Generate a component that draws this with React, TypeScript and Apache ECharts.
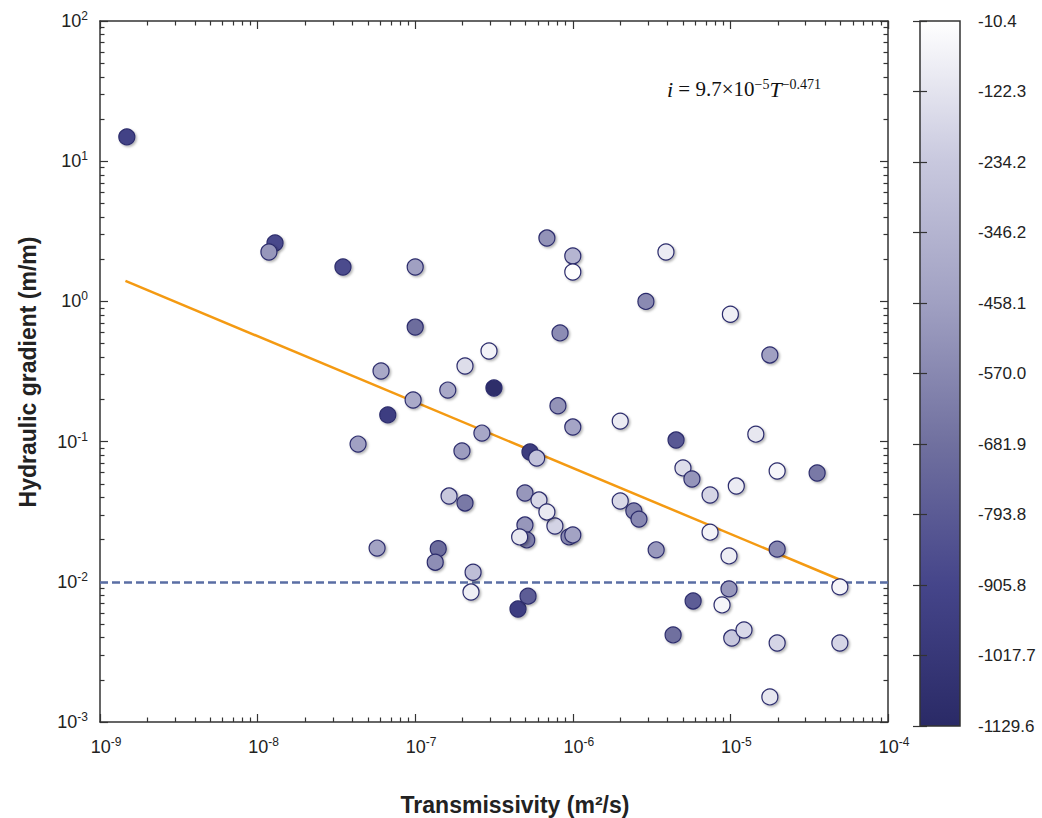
import React, { useEffect, useRef } from 'react';
import * as echarts from 'echarts';

// ---- data ----
const transmissivity = [
  1.48e-9, 1.29e-8, 1.18e-8, 3.48e-8, 1.0e-7, 6.85e-7, 1.0e-6, 1.0e-6, 3.9e-6, 2.91e-6,
  1.0e-5, 1.0e-7, 8.3e-7, 1.78e-5, 2.94e-7, 2.07e-7, 6.07e-8, 1.61e-7, 3.16e-7, 6.7e-8,
  9.7e-8, 8.05e-7, 4.34e-8, 2.65e-7, 1.98e-7, 5.35e-7, 5.9e-7, 1.0e-6, 2.0e-6, 4.52e-6,
  1.45e-5, 5.0e-6, 5.7e-6, 1.98e-5, 3.55e-5, 1.64e-7, 2.07e-7, 4.97e-7, 6.1e-7, 4.97e-7,
  7.7e-7, 6.85e-7, 5.1e-7, 4.6e-7, 9.46e-7, 1.0e-6, 2.0e-6, 2.44e-6, 2.63e-6, 3.38e-6,
  7.43e-6, 1.09e-5, 7.43e-6, 9.8e-6, 1.98e-5, 5.73e-8, 1.4e-7, 1.34e-7, 2.33e-7, 2.26e-7,
  4.49e-7, 5.2e-7, 9.8e-6, 8.85e-6, 5.8e-6, 4.95e-5, 4.33e-6, 1.02e-5, 1.22e-5, 1.98e-5,
  4.95e-5, 1.78e-5,
];
const gradient = [
  14.9, 2.61, 2.25, 1.76, 1.76, 2.83, 2.11, 1.62, 2.25, 1.0,
  0.81, 0.656, 0.596, 0.415, 0.443, 0.346, 0.319, 0.233, 0.241, 0.155,
  0.198, 0.18, 0.096, 0.115, 0.0857, 0.0843, 0.0763, 0.127, 0.14, 0.1026,
  0.113, 0.0649, 0.0541, 0.0617, 0.0597, 0.0409, 0.0365, 0.043, 0.0383, 0.0254,
  0.025, 0.0315, 0.0199, 0.0209, 0.0209, 0.0216, 0.0377, 0.032, 0.028, 0.0169,
  0.0416, 0.0482, 0.0226, 0.0153, 0.0171, 0.0174, 0.0172, 0.0138, 0.0117, 0.00845,
  0.0064, 0.0079, 0.0089, 0.00684, 0.0073, 0.0092, 0.00418, 0.00397, 0.00453, 0.00366,
  0.00366, 0.00151,
];
const depth = [
  -930, -880, -500, -870, -460, -520, -340, -15, -90, -560,
  -75, -700, -550, -460, -60, -150, -410, -410, -1100, -960,
  -400, -520, -450, -420, -470, -980, -260, -430, -90, -800,
  -110, -150, -510, -45, -640, -240, -640, -500, -170, -500,
  -190, -100, -620, -110, -560, -440, -170, -590, -570, -490,
  -180, -90, -60, -85, -570, -440, -700, -540, -290, -75,
  -960, -780, -500, -50, -780, -50, -680, -240, -160, -180,
  -180, -110,
];

const fitLineT = [1.45e-9, 5.0e-5];
const fitLineI = [1.4, 0.0103];
const thresholdGradient = 0.01;

const xTickExponents = [-9, -8, -7, -6, -5, -4];
const yTickExponents = [-3, -2, -1, 0, 1, 2];
const colorbarLabels = [
  '-1129.6', '-1017.7', '-905.8', '-793.8', '-681.9', '-570.0',
  '-458.1', '-346.2', '-234.2', '-122.3', '-10.4',
];
const depthMin = -1129.6;
const depthMax = -10.4;
const colorRamp = ['#2a2a66', '#45458a', '#70709f', '#a0a0c2', '#c8c8de', '#ffffff'];

const FONT = 'Liberation Sans, Arial, sans-serif';
const SERIF = 'Liberation Serif, Times New Roman, serif';
const AXIS_COLOR = '#333';
const TEXT_COLOR = '#222';

const minorTicks = (exps: number[]) =>
  exps.slice(0, -1).flatMap((e) => [2, 3, 4, 5, 6, 7, 8, 9].map((k) => e + Math.log10(k)));

const expLabel = (v: number) => `{b|10}{sup|${Math.round(Math.log10(v))}}`;
const labelRich = {
  b: { fontSize: 18, fontFamily: FONT, color: TEXT_COLOR, lineHeight: 22 },
  sup: { fontSize: 12, fontFamily: FONT, color: TEXT_COLOR, lineHeight: 14, verticalAlign: 'top' },
};

export default function App() {
  const ref = useRef<HTMLDivElement>(null);
  useEffect(() => {
    if (!ref.current) return;
    const chart = echarts.init(ref.current, undefined, { renderer: 'svg' });

    const xMin = Math.pow(10, xTickExponents[0]);
    const xMax = Math.pow(10, xTickExponents[xTickExponents.length - 1]);
    const yMin = Math.pow(10, yTickExponents[0]);
    const yMax = Math.pow(10, yTickExponents[yTickExponents.length - 1]);

    const lineStyle = { color: AXIS_COLOR, width: 1.5 };
    const tickStyle = { color: AXIS_COLOR, width: 1.2 };

    const majorX = (position: string, showLabel: boolean) => ({
      type: 'log', logBase: 10, gridIndex: 0, position, min: xMin, max: xMax,
      axisLine: { show: true, onZero: false, lineStyle },
      axisTick: { show: true, inside: true, length: 8, lineStyle: tickStyle },
      axisLabel: showLabel
        ? { show: true, margin: 14, padding: [0, 0, 0, 12], formatter: expLabel, rich: labelRich }
        : { show: false },
      splitLine: { show: false },
    });
    const minorX = (position: string) => ({
      type: 'value', gridIndex: 0, position,
      min: xTickExponents[0], max: xTickExponents[xTickExponents.length - 1],
      axisLine: { show: false, onZero: false },
      axisTick: { show: true, inside: true, length: 4.5, lineStyle: tickStyle, customValues: minorTicks(xTickExponents) },
      axisLabel: { show: false },
      splitLine: { show: false },
    });
    const majorY = (position: string, showLabel: boolean) => ({
      type: 'log', logBase: 10, gridIndex: 0, position, min: yMin, max: yMax,
      axisLine: { show: true, onZero: false, lineStyle },
      axisTick: { show: true, inside: true, length: 8, lineStyle: tickStyle },
      axisLabel: showLabel
        ? { show: true, margin: 12, formatter: expLabel, rich: labelRich }
        : { show: false },
      splitLine: { show: false },
    });
    const minorY = (position: string) => ({
      type: 'value', gridIndex: 0, position,
      min: yTickExponents[0], max: yTickExponents[yTickExponents.length - 1],
      axisLine: { show: false, onZero: false },
      axisTick: { show: true, inside: true, length: 4.5, lineStyle: tickStyle, customValues: minorTicks(yTickExponents) },
      axisLabel: { show: false },
      splitLine: { show: false },
    });
    const cbAxis = (position: string, showLabel: boolean) => ({
      type: 'category', gridIndex: 1, position, data: colorbarLabels, boundaryGap: false, z: 10,
      axisLine: { show: false },
      axisTick: { show: true, inside: true, length: 7, interval: 0, lineStyle: tickStyle },
      axisLabel: showLabel
        ? { show: true, interval: 0, margin: 18, fontSize: 17, fontFamily: FONT, color: TEXT_COLOR }
        : { show: false },
      splitLine: { show: false },
    });

    const points = transmissivity.map((t, i) => [t, gradient[i], depth[i]]);
    const fitData = fitLineT.map((t, i) => [t, fitLineI[i]]);

    const n = colorRamp.length;
    const stops = colorRamp
      .map((c, i) => ({ offset: 1 - i / (n - 1), color: c }))
      .reverse();

    chart.setOption({
      animation: false,
      backgroundColor: '#ffffff',
      grid: [
        { left: 100, top: 21, width: 788, height: 701 },
        { left: 920, top: 21, width: 40, height: 705 },
      ],
      xAxis: [
        majorX('bottom', true),
        majorX('top', false),
        minorX('bottom'),
        minorX('top'),
        { type: 'value', gridIndex: 1, show: false, min: 0, max: 1 },
      ],
      yAxis: [
        majorY('left', true),
        majorY('right', false),
        minorY('left'),
        minorY('right'),
        cbAxis('right', true),
        cbAxis('left', false),
      ],
      visualMap: {
        type: 'continuous', show: false, min: depthMin, max: depthMax,
        dimension: 2, seriesIndex: 1, inRange: { color: colorRamp },
      },
      graphic: [
        {
          type: 'rect', z: 1,
          shape: { x: 920, y: 21, width: 40, height: 705 },
          style: {
            fill: new echarts.graphic.LinearGradient(0, 0, 0, 1, stops),
            stroke: AXIS_COLOR, lineWidth: 1.5,
          },
        },
        {
          type: 'text', x: 667, y: 89, z: 5,
          style: {
            text: '{it|i} = 9.7×10{sup|−5}{it|T}{sup|−0.471}',
            fontFamily: SERIF, fontSize: 21, fill: '#111',
            verticalAlign: 'middle',
            rich: {
              it: { fontFamily: SERIF, fontStyle: 'italic', fontSize: 22, lineHeight: 24 },
              sup: { fontFamily: SERIF, fontSize: 14, lineHeight: 13, verticalAlign: 'top' },
            },
          },
        },
        {
          type: 'text', x: 515, y: 805,
          style: {
            text: 'Transmissivity (m²/s)', fontFamily: FONT, fontWeight: 'bold', fontSize: 23,
            fill: TEXT_COLOR, align: 'center', verticalAlign: 'middle',
          },
        },
        {
          type: 'text', x: 28, y: 372, rotation: Math.PI / 2,
          style: {
            text: 'Hydraulic gradient (m/m)', fontFamily: FONT, fontWeight: 'bold', fontSize: 23,
            fill: TEXT_COLOR, align: 'center', verticalAlign: 'middle',
          },
        },
      ],
      series: [
        {
          type: 'line', xAxisIndex: 0, yAxisIndex: 0, data: fitData,
          symbol: 'none', showSymbol: false, z: 2,
          lineStyle: { color: '#f49a12', width: 2.5 },
          markLine: {
            silent: true, symbol: ['none', 'none'], label: { show: false },
            lineStyle: { color: '#5a6ea4', width: 2.5, type: [8, 4] },
            data: [{ yAxis: thresholdGradient }],
          },
        },
        {
          type: 'scatter', xAxisIndex: 0, yAxisIndex: 0, data: points, z: 5,
          symbolSize: 16,
          itemStyle: {
            borderColor: '#2c2c6c', borderWidth: 1.2, opacity: 1,
            shadowBlur: 2, shadowColor: 'rgba(0,0,0,0.3)', shadowOffsetX: 1.5, shadowOffsetY: 1.5,
          },
        },
      ],
    });
    return () => chart.dispose();
  }, []);

  return (
    <div
      ref={ref}
      style={{ position: 'fixed', left: 0, top: 0, width: 1042, height: 818, background: '#fff' }}
    />
  );
}
